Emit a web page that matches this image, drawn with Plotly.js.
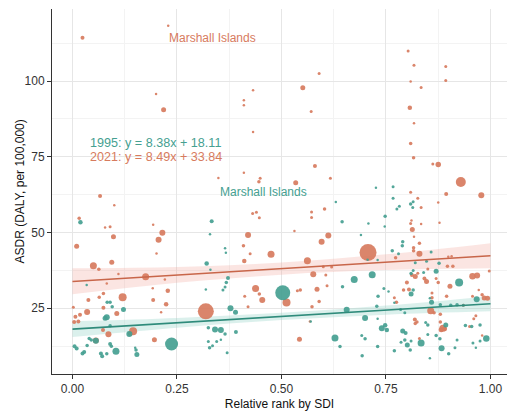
<!DOCTYPE html>
<html>
<head>
<meta charset="utf-8">
<script src="https://cdn.plot.ly/plotly-3.0.1.min.js"></script>
<style>html,body{margin:0;padding:0;background:#fff;}#chart{width:507px;height:412px;}</style>
</head>
<body>
<div id="chart"></div>
<script>
// ---- Data ----
// 2021 (orange) points: relative rank by SDI, ASDR, marker size
const x2021 = [0.024,0.229,0.200,0.218,0.410,0.410,0.432,0.432,0.349,0.410,0.446,0.449,0.066,0.803,0.817,0.893,0.590,0.809,0.893,0.551,0.834,0.571,0.807,0.817,0.809,0.816,0.875,0.862,0.580,0.617,0.534,0.929,0.978,0.894,0.809,0.826,0.100,0.016,0.010,0.078,0.090,0.098,0.050,0.063,0.094,0.110,0.082,0.175,0.193,0.215,0.206,0.201,0.221,0.228,0.192,0.193,0.224,0.120,0.212,0.319,0.196,0.145,0.138,0.086,0.056,0.007,0.018,0.035,0.004,0.014,0.038,0.064,0.074,0.074,0.106,0.073,0.002,0.420,0.440,0.447,0.431,0.409,0.425,0.411,0.438,0.447,0.454,0.412,0.420,0.475,0.572,0.572,0.603,0.531,0.612,0.596,0.562,0.707,0.512,0.545,0.538,0.585,0.609,0.590,0.573,0.543,0.568,0.576,0.606,0.600,0.620,0.957,0.968,0.903,0.972,0.985,0.993,0.857,0.882,0.890,0.819,0.824,0.830,0.820,0.812,0.826,0.809,0.811,0.830,0.830,0.834,0.813,0.817,0.816,0.816,0.875,0.878,0.834,0.899,0.907,0.792,0.800,0.805,0.847,0.842,0.875,0.870,0.895,0.980,0.997,0.773,0.897,0.910,0.850,0.860,0.860,0.880,0.865,0.820,0.880,0.886,0.960,0.965,0.770,0.775,0.935,0.957,0.950,0.980];
const y2021 = [114.3,118.3,95.7,90.5,93.7,92.0,97.0,83.2,68.0,69.7,66.8,67.9,62.1,109.9,105.2,104.8,102.5,99.9,100.2,97.8,97.9,90.0,91.2,86.1,79.4,74.7,72.5,72.6,72.0,67.9,66.4,66.7,62.3,62.7,63.3,61.3,59.0,54.7,45.5,51.7,51.9,48.6,39.0,37.9,40.2,36.3,33.2,35.4,52.6,49.9,47.6,43.1,34.5,30.8,31.6,27.7,26.3,28.6,23.7,24.0,14.6,17.4,16.7,16.4,14.4,22.2,22.9,23.8,20.5,20.6,27.7,28.6,29.9,25.2,23.3,17.8,25.3,49.2,56.7,54.9,56.3,45.6,43.0,40.6,31.5,29.7,27.7,29.0,25.5,42.8,56.8,55.0,57.8,50.5,49.0,47.0,40.7,43.4,26.9,31.0,30.8,31.3,32.4,27.2,25.5,14.8,20.6,36.2,36.0,38.7,38.6,35.6,35.8,32.3,31.0,28.4,28.3,24.2,17.9,18.2,21.3,20.5,15.0,35.5,36.0,36.6,53.0,54.0,46.5,43.0,52.8,51.0,48.6,45.0,44.0,59.9,53.2,58.3,42.0,42.2,31.0,33.5,31.2,33.8,34.8,33.5,34.8,29.0,29.5,37.3,41.7,38.9,38.9,38.0,30.0,28.5,23.0,23.5,20.0,20.5,18.4,21.5,22.5,28.5,27.0,26.0,29.0,19.0,16.0];
const s2021 = [4,2.5,2.5,5,2.5,2.5,2.5,2.5,2.5,2.5,3.5,3,4,3,3,3,3,2.5,3,5,3,3,4.5,2.5,3.5,3.5,5.5,3,4,3,5,10,6,4,3,3,2.5,3.5,5,2.5,3,5,7,3.5,5,2.5,2.5,7,2.5,6,6,2.5,2.5,4.5,2.5,4,4.5,8,2.5,16,5,8,5,6,6,4,4,6,4,4,4,3.5,3.5,4,5,4,3,6,3,3,3,3.5,3,4.5,7,3.5,6,3,3,7,3,3,3.5,2.5,6,6,7,17,8,3.5,3,5,3,3.5,3.5,5,2.5,6,3,3,3,6.5,6,5,2.5,5,5,7,5,5,4,3.5,3,5,4,3,3,2.5,3.5,6,2.5,5,2.5,3.5,3.5,2.5,2.5,3,2.5,2.5,3.5,4,4,5,4,3.5,3,3.5,3.5,3,3.5,3.5,3.5,3,3,3.5,3.5,3.5,3.5,3.5,7,3,3,3,3.5,3,3,3,2.5];

// 1995 (teal) points
const x1995 = [0.019,0.034,0.083,0.090,0.095,0.122,0.082,0.090,0.078,0.005,0.010,0.028,0.024,0.035,0.040,0.045,0.056,0.068,0.071,0.082,0.104,0.090,0.093,0.154,0.136,0.150,0.152,0.237,0.333,0.329,0.321,0.330,0.367,0.365,0.372,0.368,0.365,0.360,0.378,0.390,0.319,0.325,0.341,0.355,0.365,0.391,0.328,0.335,0.370,0.355,0.325,0.345,0.503,0.674,0.717,0.630,0.645,0.708,0.690,0.726,0.748,0.747,0.767,0.782,0.767,0.776,0.815,0.814,0.809,0.765,0.730,0.789,0.858,0.877,0.628,0.656,0.640,0.700,0.728,0.731,0.646,0.693,0.700,0.730,0.740,0.748,0.752,0.790,0.797,0.795,0.786,0.810,0.770,0.808,0.801,0.834,0.855,0.883,0.900,0.879,0.925,0.990,0.955,0.958,0.965,0.967,0.870,0.810,0.815,0.840,0.810,0.815,0.855,0.859,0.880,0.905,0.920,0.935,0.893,0.850,0.845,0.730,0.940,0.975,0.870,0.850,0.920,0.915,0.975,0.847,0.780,0.790,0.820,0.756,0.745,0.770,0.785,0.795,0.570,0.692,0.706];
const y1995 = [53.4,32.7,27.0,27.0,25.5,24.6,22.0,19.2,21.7,12.5,11.7,10.6,10.1,12.7,15.0,14.5,14.3,10.1,9.2,10.0,10.8,13.2,12.5,9.7,16.5,12.0,11.2,13.2,53.7,49.4,39.8,37.7,43.3,44.8,35.0,33.5,32.0,31.0,25.0,23.7,31.2,18.6,18.0,17.8,16.5,17.2,12.0,12.6,10.3,14.6,14.0,14.0,30.1,34.5,36.1,60.1,53.6,53.0,49.2,64.8,55.4,52.0,65.1,58.7,61.3,57.8,60.2,58.3,59.4,44.0,40.9,45.6,43.6,39.9,15.2,24.5,12.4,21.8,25.7,29.0,32.1,9.3,14.9,12.4,18.4,19.4,17.8,17.5,16.8,14.5,13.8,14.2,11.0,11.2,12.9,13.5,8.5,11.8,10.0,14.9,33.5,15.0,19.0,13.5,12.0,28.0,37.2,36.5,37.5,36.8,29.7,31.0,28.3,27.0,26.2,26.0,26.2,26.0,19.5,19.5,20.3,21.5,19.3,19.5,16.0,16.3,14.5,12.0,14.2,40.5,43.0,47.0,40.0,30.5,31.5,26.8,24.6,23.5,20.6,16.0,41.0];
const s1995 = [4.5,2.5,3.5,3.5,3.5,5,6,3.5,5,4,4,4,4,3.5,3.5,3.5,6,4,4,3.5,7,4,3.5,5,6,2.5,3.5,13,4,2.5,4.5,2.5,2.5,2.5,4,3.5,3,3,6,5,2.5,3.5,6,6,3.5,4,3.5,3,3,2.5,3,3,15,7,7,2.5,3.5,2.5,2.5,2.5,3.5,2.5,3,3,3,3,3,3,3.5,3.5,2.5,3.5,3,3.5,7,6,3.5,6,3.5,3.5,3.5,3.5,3.5,3.5,6,4.5,4.5,5,4,3.5,3,3,3.5,3.5,5,7,2.5,6,3.5,3.5,8,6.5,3.5,3,2.5,6,5,3.5,3,3,5,3.5,2.5,5,3.5,3.5,3.5,3,5,3.5,3,2.5,3.5,3.5,3.5,3,3,3,3,3,3,3.5,3,2.5,3,2.5,3,3,2.5,3,2.5];

// Regression equations (from the chart annotations) and confidence band read-offs
const slope1995 = 8.38, intercept1995 = 18.11;
const slope2021 = 8.49, intercept2021 = 33.84;
const bandX = [0, 0.25, 0.5, 0.75, 1];
const band2021Lo = [29.6, 33.4, 36.1, 37.6, 38.2];
const band2021Hi = [38.2, 38.6, 40.1, 42.8, 46.5];
const band1995Lo = [15.5, 18.6, 21.1, 22.9, 24.0];
const band1995Hi = [20.7, 21.8, 23.5, 25.9, 29.0];

const labels = {eq1995: '1995: y = 8.38x + 18.11', eq2021: '2021: y = 8.49x + 33.84', country: 'Marshall Islands',
                xTitle: 'Relative rank by SDI', yTitle: 'ASDR (DALY, per 100,000)'};

// ---- Styles ----
const ORANGE = '#d77b5e';
const TEAL = '#45a091';
const lineX = [0, 1];

const traces = [
  {x: bandX, y: band2021Lo, mode: 'lines', line: {width: 0, shape: 'spline'}, hoverinfo: 'skip', showlegend: false},
  {x: bandX, y: band2021Hi, mode: 'lines', line: {width: 0, shape: 'spline'}, fill: 'tonexty', fillcolor: 'rgba(240,160,150,0.28)', hoverinfo: 'skip', showlegend: false},
  {x: bandX, y: band1995Lo, mode: 'lines', line: {width: 0, shape: 'spline'}, hoverinfo: 'skip', showlegend: false},
  {x: bandX, y: band1995Hi, mode: 'lines', line: {width: 0, shape: 'spline'}, fill: 'tonexty', fillcolor: 'rgba(150,210,200,0.34)', hoverinfo: 'skip', showlegend: false},
  {x: x2021, y: y2021, mode: 'markers', type: 'scatter', marker: {color: ORANGE, size: s2021, opacity: 0.92, line: {width: 0}}, showlegend: false},
  {x: x1995, y: y1995, mode: 'markers', type: 'scatter', marker: {color: TEAL, size: s1995, opacity: 0.92, line: {width: 0}}, showlegend: false},
  {x: lineX, y: lineX.map(v => intercept2021 + slope2021 * v), mode: 'lines', line: {color: '#c8664a', width: 1.6}, showlegend: false},
  {x: lineX, y: lineX.map(v => intercept1995 + slope1995 * v), mode: 'lines', line: {color: '#2f8b7b', width: 1.6}, showlegend: false}
];

const font = {family: 'Liberation Sans, Arial, sans-serif', size: 12, color: '#333'};
const layout = {
  width: 507, height: 412,
  margin: {l: 52, r: 0, t: 9, b: 38},
  paper_bgcolor: '#fff', plot_bgcolor: '#fff',
  font: font,
  showlegend: false,
  xaxis: {
    range: [-0.049, 1.0395],
    tickvals: [0, 0.25, 0.5, 0.75, 1],
    ticktext: ['0.00', '0.25', '0.50', '0.75', '1.00'],
    showgrid: true, gridcolor: '#e6e6e6', gridwidth: 1,
    minor: {tickvals: [0.125, 0.375, 0.625, 0.875], showgrid: true, gridcolor: '#f3f3f3', gridwidth: 1, ticks: ''},
    zeroline: false,
    showline: true, linecolor: '#333', linewidth: 1,
    ticks: 'outside', ticklen: 4, tickcolor: '#333',
    tickfont: {size: 12, color: '#333'},
    title: {text: labels.xTitle, font: {size: 12, color: '#111'}, standoff: 4}
  },
  yaxis: {
    range: [3.3, 123.8],
    tickvals: [25, 50, 75, 100],
    showgrid: true, gridcolor: '#e6e6e6', gridwidth: 1,
    minor: {tickvals: [12.5, 37.5, 62.5, 87.5, 112.5], showgrid: true, gridcolor: '#f3f3f3', gridwidth: 1, ticks: ''},
    zeroline: false,
    showline: true, linecolor: '#333', linewidth: 1,
    ticks: 'outside', ticklen: 4, tickcolor: '#333',
    tickfont: {size: 12, color: '#333'}
  },
  annotations: [
    {x: -0.0725, y: 0.5, xref: 'paper', yref: 'paper', text: labels.yTitle, textangle: -90, showarrow: false, xanchor: 'center', yanchor: 'middle', font: {size: 12, color: '#111'}},
    {x: 0.037, y: 79.6, xref: 'x', yref: 'y', text: labels.eq1995, showarrow: false, xanchor: 'left', yanchor: 'middle', font: {size: 12.6, color: TEAL}},
    {x: 0.037, y: 74.9, xref: 'x', yref: 'y', text: labels.eq2021, showarrow: false, xanchor: 'left', yanchor: 'middle', font: {size: 12.6, color: ORANGE}},
    {x: 0.334, y: 114.3, xref: 'x', yref: 'y', text: labels.country, showarrow: false, xanchor: 'center', yanchor: 'middle', font: {size: 12, color: ORANGE}},
    {x: 0.456, y: 63.5, xref: 'x', yref: 'y', text: labels.country, showarrow: false, xanchor: 'center', yanchor: 'middle', font: {size: 12, color: TEAL}}
  ]
};

Plotly.newPlot('chart', traces, layout, {displayModeBar: false, staticPlot: true});
</script>
</body>
</html>
